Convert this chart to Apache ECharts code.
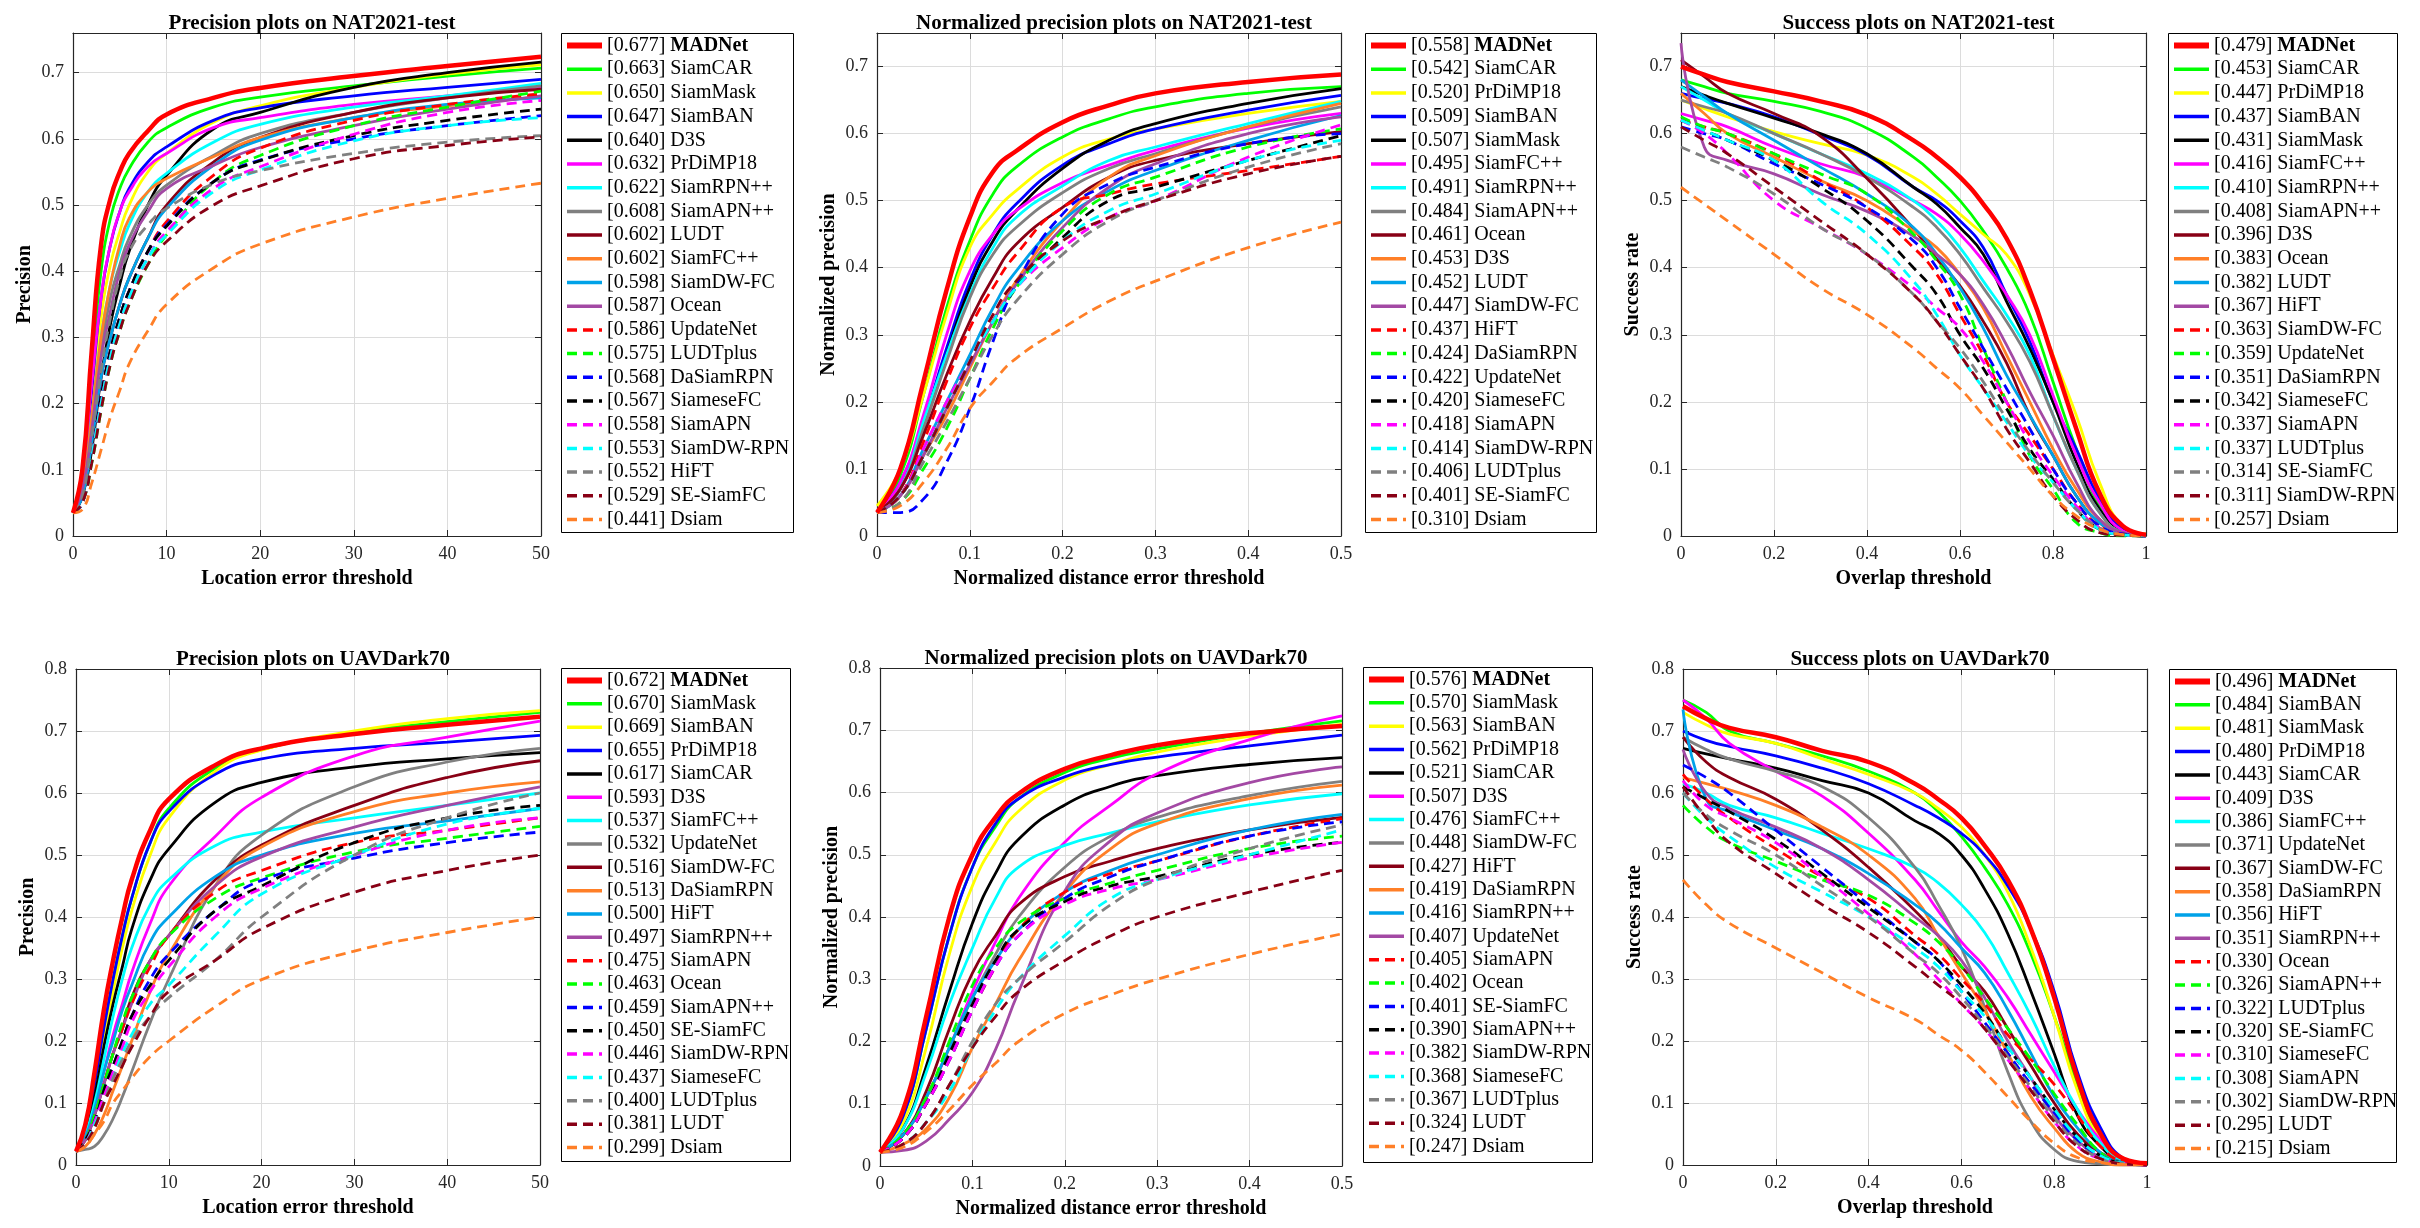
<!DOCTYPE html>
<html><head><meta charset="utf-8">
<script src="https://cdn.jsdelivr.net/npm/echarts@6/dist/echarts.min.js"></script>
<style>html,body{margin:0;padding:0;background:#fff}#c{width:2420px;height:1228px}</style>
</head><body><div id="c"></div>
<script>
// ================= DATA =================
// Panel 1: Precision plots on NAT2021-test
const x1 = [0,1,2,3,4,5,6,8,10,15,20,30,40,50];
const names1 = ['MADNet','SiamCAR','SiamMask','SiamBAN','D3S','PrDiMP18','SiamRPN++','SiamAPN++','LUDT','SiamFC++','SiamDW-FC','Ocean','UpdateNet','LUDTplus','DaSiamRPN','SiameseFC','SiamAPN','SiamDW-RPN','HiFT','SE-SiamFC','Dsiam'];
const scores1 = [0.677,0.663,0.650,0.647,0.640,0.632,0.622,0.608,0.602,0.602,0.598,0.587,0.586,0.575,0.568,0.567,0.558,0.553,0.552,0.529,0.441];
const vals1 = [
 [.035,.10,.28,.44,.51,.55,.578,.612,.637,.662,.677,.695,.71,.724],
 [.035,.09,.25,.40,.48,.525,.555,.595,.617,.648,.663,.68,.695,.707],
 [.035,.08,.20,.33,.41,.46,.50,.55,.578,.625,.650,.678,.698,.712],
 [.035,.08,.22,.36,.44,.49,.525,.565,.588,.628,.647,.665,.678,.69],
 [.035,.06,.13,.24,.32,.38,.43,.50,.545,.615,.640,.678,.70,.716],
 [.035,.09,.23,.36,.44,.49,.52,.558,.578,.617,.632,.652,.665,.679],
 [.035,.07,.18,.30,.38,.43,.47,.52,.548,.595,.622,.648,.665,.684],
 [.035,.07,.17,.28,.36,.41,.45,.50,.53,.575,.608,.64,.662,.68],
 [.035,.06,.14,.24,.30,.35,.39,.45,.50,.565,.602,.64,.662,.675],
 [.035,.07,.18,.30,.38,.44,.48,.52,.54,.573,.602,.632,.65,.664],
 [.035,.06,.14,.24,.30,.35,.39,.45,.495,.56,.598,.632,.652,.662],
 [.035,.07,.16,.27,.34,.40,.44,.49,.525,.56,.587,.62,.645,.665],
 [.035,.05,.12,.21,.28,.33,.37,.43,.475,.545,.586,.628,.652,.668],
 [.035,.05,.11,.19,.26,.31,.35,.41,.455,.535,.575,.62,.648,.672],
 [.035,.05,.12,.21,.28,.33,.37,.43,.47,.535,.568,.60,.62,.635],
 [.035,.05,.12,.21,.28,.33,.37,.43,.468,.535,.567,.605,.628,.645],
 [.035,.05,.12,.20,.27,.32,.36,.42,.46,.525,.558,.607,.64,.658],
 [.035,.05,.12,.20,.27,.32,.36,.42,.455,.52,.553,.597,.62,.632],
 [.035,.06,.15,.25,.33,.39,.43,.47,.495,.532,.552,.578,.595,.605],
 [.035,.05,.11,.19,.26,.31,.35,.41,.445,.50,.529,.57,.59,.603],
 [.035,.04,.08,.13,.18,.22,.26,.31,.35,.405,.441,.482,.51,.533]
];

// Panel 2: Normalized precision plots on NAT2021-test
const x2 = [0,0.025,0.05,0.075,0.1,0.125,0.15,0.2,0.25,0.3,0.4,0.5];
const names2 = ['MADNet','SiamCAR','PrDiMP18','SiamBAN','SiamMask','SiamFC++','SiamRPN++','SiamAPN++','Ocean','D3S','LUDT','SiamDW-FC','HiFT','DaSiamRPN','UpdateNet','SiameseFC','SiamAPN','SiamDW-RPN','LUDTplus','SE-SiamFC','Dsiam'];
const scores2 = [0.558,0.542,0.520,0.509,0.507,0.495,0.491,0.484,0.461,0.453,0.452,0.447,0.437,0.424,0.422,0.420,0.418,0.414,0.406,0.401,0.310];
const vals2 = [
 [.035,.10,.23,.367,.475,.543,.574,.617,.642,.66,.677,.688],
 [.035,.09,.21,.34,.44,.51,.55,.595,.622,.64,.66,.67],
 [.045,.10,.21,.33,.43,.48,.515,.565,.592,.607,.63,.648],
 [.035,.08,.17,.28,.38,.45,.495,.553,.585,.607,.635,.657],
 [.035,.07,.16,.27,.37,.44,.485,.548,.59,.615,.645,.667],
 [.035,.08,.18,.30,.395,.45,.485,.527,.553,.575,.608,.63],
 [.035,.07,.17,.27,.36,.43,.475,.522,.56,.58,.615,.648],
 [.035,.07,.16,.26,.355,.42,.46,.512,.548,.57,.61,.64],
 [.035,.07,.15,.24,.32,.385,.435,.49,.535,.56,.585,.603],
 [.035,.06,.12,.18,.25,.32,.38,.47,.535,.567,.61,.645],
 [.035,.06,.13,.20,.27,.34,.395,.47,.515,.545,.59,.627],
 [.035,.06,.12,.19,.255,.32,.375,.46,.52,.555,.60,.625],
 [.035,.06,.14,.23,.31,.37,.42,.49,.51,.525,.545,.566],
 [.035,.05,.10,.16,.235,.31,.37,.455,.51,.535,.58,.607],
 [.035,.035,.055,.11,.19,.29,.375,.48,.525,.55,.585,.60],
 [.035,.06,.12,.19,.26,.32,.37,.445,.50,.52,.56,.597],
 [.035,.06,.13,.20,.26,.32,.37,.43,.475,.50,.565,.613],
 [.035,.06,.12,.19,.26,.32,.37,.44,.485,.51,.56,.59],
 [.035,.05,.11,.17,.235,.30,.35,.42,.47,.50,.55,.585],
 [.035,.06,.12,.19,.26,.33,.38,.44,.475,.50,.54,.566],
 [.035,.045,.08,.13,.19,.23,.265,.31,.35,.38,.43,.468]
];

// Panel 3: Success plots on NAT2021-test
const x3 = [0,0.05,0.1,0.2,0.3,0.4,0.5,0.55,0.6,0.65,0.7,0.75,0.8,0.85,0.9,0.95,1];
const names3 = ['MADNet','SiamCAR','PrDiMP18','SiamBAN','SiamMask','SiamFC++','SiamRPN++','SiamAPN++','D3S','Ocean','LUDT','HiFT','SiamDW-FC','UpdateNet','DaSiamRPN','SiameseFC','SiamAPN','LUDTplus','SE-SiamFC','SiamDW-RPN','Dsiam'];
const scores3 = [0.479,0.453,0.447,0.437,0.431,0.416,0.410,0.408,0.396,0.383,0.382,0.367,0.363,0.359,0.351,0.342,0.337,0.337,0.314,0.311,0.257];
const vals3 = [
 [.70,.688,.677,.663,.648,.628,.59,.565,.535,.495,.444,.367,.265,.16,.064,.015,.002],
 [.68,.67,.66,.648,.633,.608,.565,.535,.50,.455,.40,.33,.23,.13,.045,.008,0],
 [.65,.637,.625,.603,.585,.568,.535,.51,.48,.45,.42,.36,.27,.18,.08,.015,.003],
 [.66,.652,.645,.625,.598,.568,.52,.50,.47,.43,.36,.29,.20,.13,.055,.01,0],
 [.67,.657,.645,.623,.60,.57,.52,.495,.46,.42,.35,.28,.20,.11,.04,.008,0],
 [.63,.62,.61,.58,.555,.535,.50,.48,.45,.41,.36,.30,.21,.12,.05,.008,0],
 [.67,.65,.63,.60,.57,.54,.50,.47,.43,.38,.33,.27,.18,.10,.035,.005,0],
 [.65,.64,.63,.60,.57,.535,.49,.46,.42,.37,.32,.26,.18,.10,.035,.005,0],
 [.71,.685,.66,.63,.596,.533,.458,.413,.373,.32,.258,.18,.12,.06,.02,.003,0],
 [.66,.63,.60,.565,.53,.50,.455,.43,.39,.34,.27,.20,.13,.07,.025,.004,0],
 [.68,.655,.63,.59,.55,.51,.46,.42,.37,.31,.24,.18,.12,.06,.02,.003,0],
 [.735,.58,.56,.54,.51,.484,.447,.42,.39,.345,.285,.215,.15,.08,.025,.005,0],
 [.62,.61,.60,.57,.53,.49,.43,.39,.33,.27,.20,.15,.10,.05,.015,.003,0],
 [.625,.61,.60,.57,.54,.51,.45,.41,.36,.28,.20,.12,.07,.02,.005,0,0],
 [.61,.60,.59,.555,.525,.49,.44,.40,.34,.28,.22,.16,.10,.05,.015,.003,0],
 [.62,.605,.59,.56,.52,.47,.40,.36,.30,.25,.19,.13,.085,.04,.01,.002,0],
 [.62,.60,.57,.50,.46,.42,.37,.34,.31,.26,.20,.14,.09,.045,.012,.002,0],
 [.62,.605,.59,.56,.50,.45,.38,.33,.27,.22,.17,.12,.08,.04,.01,.002,0],
 [.58,.565,.55,.51,.46,.42,.36,.32,.28,.23,.175,.125,.08,.04,.012,.002,0],
 [.61,.59,.57,.52,.47,.42,.36,.32,.27,.22,.16,.11,.06,.025,.005,.001,0],
 [.52,.495,.47,.42,.37,.33,.28,.25,.22,.18,.14,.10,.06,.03,.01,.002,0]
];

// Panel 4: Precision plots on UAVDark70
const x4 = [0,1,2,3,4,5,6,8,10,15,20,30,40,50];
const names4 = ['MADNet','SiamMask','SiamBAN','PrDiMP18','SiamCAR','D3S','SiamFC++','UpdateNet','SiamDW-FC','DaSiamRPN','HiFT','SiamRPN++','SiamAPN','Ocean','SiamAPN++','SE-SiamFC','SiamDW-RPN','SiameseFC','LUDTplus','LUDT','Dsiam'];
const scores4 = [0.672,0.670,0.669,0.655,0.617,0.593,0.537,0.532,0.516,0.513,0.500,0.497,0.475,0.463,0.459,0.450,0.446,0.437,0.400,0.381,0.299];
const vals4 = [
 [.022,.065,.15,.25,.33,.40,.46,.54,.59,.645,.672,.695,.71,.723],
 [.022,.055,.13,.22,.30,.37,.43,.52,.575,.64,.670,.698,.715,.73],
 [.022,.05,.12,.20,.28,.35,.41,.50,.56,.635,.669,.70,.72,.733],
 [.022,.055,.13,.22,.30,.37,.43,.52,.57,.63,.655,.672,.682,.693],
 [.022,.05,.11,.19,.26,.32,.38,.46,.51,.585,.617,.642,.655,.665],
 [.022,.045,.09,.15,.21,.26,.31,.39,.45,.53,.593,.66,.69,.716],
 [.022,.05,.10,.17,.24,.30,.35,.42,.46,.515,.537,.56,.58,.60],
 [.022,.025,.03,.048,.075,.11,.15,.23,.30,.45,.532,.61,.65,.672],
 [.022,.04,.08,.13,.18,.22,.27,.33,.37,.46,.516,.58,.625,.652],
 [.022,.03,.05,.08,.12,.16,.20,.28,.34,.45,.513,.57,.60,.618],
 [.022,.045,.09,.15,.20,.25,.29,.36,.40,.465,.50,.535,.555,.575],
 [.022,.04,.08,.13,.18,.22,.26,.33,.37,.45,.497,.545,.58,.61],
 [.022,.04,.08,.13,.18,.22,.26,.32,.37,.44,.475,.52,.54,.56],
 [.022,.04,.08,.13,.18,.23,.27,.33,.37,.43,.463,.505,.527,.546],
 [.022,.04,.07,.12,.16,.20,.24,.30,.34,.41,.459,.495,.52,.537],
 [.022,.04,.07,.12,.16,.20,.24,.29,.33,.41,.45,.52,.56,.58],
 [.022,.035,.07,.11,.15,.19,.23,.28,.32,.40,.446,.50,.54,.56],
 [.022,.035,.065,.10,.14,.18,.21,.26,.29,.37,.437,.50,.55,.575],
 [.022,.035,.06,.10,.14,.17,.20,.24,.27,.33,.40,.50,.56,.60],
 [.022,.035,.06,.10,.13,.16,.19,.24,.28,.33,.381,.44,.475,.50],
 [.022,.03,.05,.07,.10,.12,.14,.175,.20,.255,.299,.345,.375,.40]
];

// Panel 5: Normalized precision plots on UAVDark70
const x5 = [0,0.025,0.05,0.075,0.1,0.125,0.15,0.2,0.25,0.3,0.4,0.5];
const names5 = ['MADNet','SiamMask','SiamBAN','PrDiMP18','SiamCAR','D3S','SiamFC++','SiamDW-FC','HiFT','DaSiamRPN','SiamRPN++','UpdateNet','SiamAPN','Ocean','SE-SiamFC','SiamAPN++','SiamDW-RPN','SiameseFC','LUDTplus','LUDT','Dsiam'];
const scores5 = [0.576,0.570,0.563,0.562,0.521,0.507,0.476,0.448,0.427,0.419,0.416,0.407,0.405,0.402,0.401,0.390,0.382,0.368,0.367,0.324,0.247];
const vals5 = [
 [.022,.09,.24,.40,.50,.56,.598,.638,.66,.676,.695,.707],
 [.022,.08,.22,.37,.48,.545,.59,.632,.655,.67,.695,.715],
 [.022,.07,.19,.34,.45,.52,.57,.62,.645,.665,.69,.71],
 [.022,.08,.22,.37,.48,.55,.59,.625,.645,.657,.675,.692],
 [.022,.06,.16,.28,.39,.47,.525,.58,.61,.627,.645,.656],
 [.022,.05,.11,.19,.28,.36,.43,.52,.58,.63,.685,.723],
 [.022,.06,.15,.26,.35,.43,.48,.515,.535,.553,.58,.598],
 [.022,.05,.11,.19,.27,.34,.40,.48,.53,.56,.595,.618],
 [.022,.05,.12,.22,.31,.37,.42,.465,.49,.51,.54,.56],
 [.022,.035,.06,.11,.19,.26,.33,.44,.51,.55,.59,.612],
 [.022,.05,.11,.19,.27,.33,.38,.44,.475,.50,.54,.565],
 [.022,.025,.04,.075,.118,.187,.28,.442,.523,.567,.616,.641],
 [.022,.045,.10,.17,.25,.32,.38,.44,.47,.49,.53,.558],
 [.022,.05,.11,.20,.29,.35,.39,.43,.455,.475,.51,.53],
 [.022,.045,.10,.17,.25,.32,.37,.43,.465,.49,.53,.553],
 [.022,.045,.10,.18,.26,.33,.38,.425,.45,.465,.50,.52],
 [.022,.045,.10,.17,.25,.32,.37,.42,.445,.46,.495,.52],
 [.022,.035,.07,.12,.19,.25,.30,.37,.43,.46,.50,.54],
 [.022,.035,.07,.13,.20,.26,.30,.36,.42,.46,.51,.548],
 [.022,.035,.07,.13,.19,.24,.28,.33,.37,.40,.44,.475],
 [.022,.03,.055,.09,.13,.165,.20,.245,.275,.30,.34,.373]
];

// Panel 6: Success plots on UAVDark70
const x6 = [0,0.05,0.1,0.2,0.3,0.4,0.5,0.55,0.6,0.65,0.7,0.75,0.8,0.85,0.9,0.95,1];
const names6 = ['MADNet','SiamBAN','SiamMask','PrDiMP18','SiamCAR','D3S','SiamFC++','UpdateNet','SiamDW-FC','DaSiamRPN','HiFT','SiamRPN++','Ocean','SiamAPN++','LUDTplus','SE-SiamFC','SiameseFC','SiamAPN','SiamDW-RPN','LUDT','Dsiam'];
const scores6 = [0.496,0.484,0.481,0.480,0.443,0.409,0.386,0.371,0.367,0.358,0.356,0.351,0.330,0.326,0.322,0.320,0.310,0.308,0.302,0.295,0.215];
const vals6 = [
 [.74,.72,.705,.69,.668,.65,.615,.59,.56,.515,.46,.38,.27,.14,.05,.01,.003],
 [.75,.73,.70,.68,.66,.635,.60,.57,.53,.48,.42,.34,.24,.13,.04,.008,0],
 [.73,.71,.695,.68,.655,.63,.60,.575,.545,.50,.44,.35,.24,.12,.04,.007,0],
 [.70,.685,.675,.66,.64,.615,.58,.56,.535,.50,.45,.38,.28,.15,.06,.01,0],
 [.672,.663,.655,.64,.62,.60,.555,.535,.50,.445,.373,.28,.18,.08,.03,.005,0],
 [.75,.72,.68,.635,.595,.535,.46,.41,.36,.32,.27,.21,.15,.09,.04,.008,0],
 [.615,.60,.58,.56,.535,.51,.48,.455,.42,.375,.31,.24,.16,.09,.035,.006,0],
 [.69,.67,.655,.635,.61,.56,.48,.42,.35,.255,.15,.07,.025,.006,.002,0,0],
 [.69,.65,.625,.59,.54,.48,.41,.37,.32,.28,.22,.16,.10,.05,.02,.004,0],
 [.625,.615,.605,.58,.545,.50,.43,.37,.31,.25,.18,.11,.06,.02,.005,0,0],
 [.735,.59,.57,.54,.51,.47,.42,.39,.35,.31,.25,.18,.11,.06,.02,.004,0],
 [.67,.60,.575,.545,.51,.46,.40,.37,.33,.27,.20,.14,.08,.04,.012,.002,0],
 [.63,.59,.56,.51,.465,.43,.37,.34,.30,.26,.21,.17,.13,.08,.03,.005,0],
 [.58,.545,.52,.49,.46,.435,.39,.36,.32,.27,.22,.17,.115,.065,.02,.003,0],
 [.645,.625,.60,.54,.48,.42,.36,.33,.28,.23,.18,.13,.085,.04,.015,.003,0],
 [.61,.59,.57,.525,.47,.415,.36,.33,.29,.245,.19,.14,.09,.045,.015,.003,0],
 [.62,.58,.56,.52,.465,.405,.34,.30,.26,.22,.17,.12,.07,.03,.01,.002,0],
 [.60,.56,.53,.48,.44,.40,.35,.32,.28,.24,.19,.14,.09,.045,.015,.003,0],
 [.60,.565,.54,.50,.45,.40,.34,.31,.27,.225,.175,.125,.075,.035,.01,.002,0],
 [.61,.56,.52,.47,.42,.375,.32,.29,.26,.22,.17,.12,.07,.03,.01,.002,0],
 [.46,.42,.39,.35,.31,.27,.235,.21,.185,.15,.11,.07,.035,.012,.004,.001,0]
];

// ================= STYLE =================
const lineColors = ['#ff0000','#00ff00','#ffff00','#0000ff','#000000','#ff00ff','#00ffff','#808080','#880015','#ff7f27','#00a2e8','#a349a4',
                    '#ff0000','#00ff00','#0000ff','#000000','#ff00ff','#00ffff','#808080','#880015','#ff7f27'];
const FONT = "'Liberation Serif','Times New Roman',serif";

const panels = [
 {title:'Precision plots on NAT2021-test', xName:'Location error threshold', yName:'Precision', x:x1, names:names1, scores:scores1, vals:vals1, xMax:50, xInt:10, yMax:0.76, g:[73,33,468,503], box:[561,33,232,499], gap:23.7},
 {title:'Normalized precision plots on NAT2021-test', xName:'Normalized distance error threshold', yName:'Normalized precision', x:x2, names:names2, scores:scores2, vals:vals2, xMax:0.5, xInt:0.1, yMax:0.75, g:[877,33,464,503], box:[1365,33,231,499], gap:23.7},
 {title:'Success plots on NAT2021-test', xName:'Overlap threshold', yName:'Success rate', x:x3, names:names3, scores:scores3, vals:vals3, xMax:1, xInt:0.2, yMax:0.75, g:[1681,33,465,503], box:[2168,33,229,499], gap:23.7},
 {title:'Precision plots on UAVDark70', xName:'Location error threshold', yName:'Precision', x:x4, names:names4, scores:scores4, vals:vals4, xMax:50, xInt:10, yMax:0.8, g:[76,669,464,496], box:[561,668,229,493], gap:23.35},
 {title:'Normalized precision plots on UAVDark70', xName:'Normalized distance error threshold', yName:'Normalized precision', x:x5, names:names5, scores:scores5, vals:vals5, xMax:0.5, xInt:0.1, yMax:0.8, g:[880,668,462,498], box:[1363,667,229,495], gap:23.35},
 {title:'Success plots on UAVDark70', xName:'Overlap threshold', yName:'Success rate', x:x6, names:names6, scores:scores6, vals:vals6, xMax:1, xInt:0.2, yMax:0.8, g:[1683,669,464,496], box:[2169,669,227,493], gap:23.35}
];

const tickFmt = v => {
  const t = v * 10;
  if (Math.abs(t - Math.round(t)) > 1e-6) return '';
  return String(Math.round(t) / 10);
};

const grids = [], xAxes = [], yAxes = [], series = [], legends = [], titles = [], graphics = [];
const axisCol = '#262626';

panels.forEach((p, i) => {
  const [gl, gt, gw, gh] = p.g;
  grids.push({left: gl, top: gt, width: gw, height: gh, containLabel: false});
  titles.push({text: p.title, left: gl + gw / 2, top: gt - 25, textAlign: 'center',
    textStyle: {fontFamily: FONT, fontSize: 21, fontWeight: 'bold', color: '#000'}});
  const base = {gridIndex: i, type: 'value', min: 0};
  xAxes.push(Object.assign({}, base, {
    max: p.xMax, interval: p.xInt, position: 'bottom',
    name: p.xName, nameLocation: 'middle', nameGap: 33,
    nameTextStyle: {fontFamily: FONT, fontSize: 20, fontWeight: 'bold', color: '#000'},
    axisLine: {show: true, onZero: false, lineStyle: {color: axisCol, width: 1.2}},
    axisTick: {show: true, inside: true, length: 6, lineStyle: {color: axisCol}},
    axisLabel: {fontFamily: FONT, fontSize: 18, color: axisCol, margin: 9, formatter: tickFmt},
    splitLine: {show: true, lineStyle: {color: '#dcdcdc', width: 1}}
  }));
  xAxes.push(Object.assign({}, base, {
    max: p.xMax, interval: p.xInt, position: 'top',
    axisLine: {show: true, onZero: false, lineStyle: {color: axisCol, width: 1.2}},
    axisTick: {show: true, inside: true, length: 6, lineStyle: {color: axisCol}},
    axisLabel: {show: false}, splitLine: {show: false}
  }));
  yAxes.push(Object.assign({}, base, {
    max: p.yMax, interval: 0.1, position: 'left',
    name: p.yName, nameLocation: 'middle', nameGap: 38,
    nameTextStyle: {fontFamily: FONT, fontSize: 20, fontWeight: 'bold', color: '#000'},
    axisLine: {show: true, onZero: false, lineStyle: {color: axisCol, width: 1.2}},
    axisTick: {show: true, inside: true, length: 6, lineStyle: {color: axisCol}},
    axisLabel: {fontFamily: FONT, fontSize: 18, color: axisCol, margin: 9, formatter: tickFmt},
    splitLine: {show: true, lineStyle: {color: '#dcdcdc', width: 1}}
  }));
  yAxes.push(Object.assign({}, base, {
    max: p.yMax, interval: 0.1, position: 'right',
    axisLine: {show: true, onZero: false, lineStyle: {color: axisCol, width: 1.2}},
    axisTick: {show: true, inside: true, length: 6, lineStyle: {color: axisCol}},
    axisLabel: {show: false}, splitLine: {show: false}
  }));

  const legendData = [];
  p.names.forEach((nm, j) => {
    const sname = i + '|' + j;
    const col = lineColors[j];
    const dash = j >= 12 ? [10, 6] : 'solid';
    legendData.push({name: sname, itemStyle: {opacity: 0, borderWidth: 0},
      lineStyle: {width: j === 0 ? 6 : 3.5, type: dash, color: col, opacity: 1}});
    series.push({
      type: 'line', name: sname, xAxisIndex: 2 * i, yAxisIndex: 2 * i,
      data: p.x.map((xv, k) => [xv, p.vals[j][k]]),
      symbol: 'none', smooth: 0.5,
      lineStyle: {color: col, width: j === 0 ? 4.5 : 2.8, type: dash},
      itemStyle: {color: col},
      z: j === 0 ? 5 : 2, silent: true, emphasis: {disabled: true}
    });
  });

  const [bl, bt, bw, bh] = p.box;
  graphics.push({type: 'rect', shape: {x: bl + 0.5, y: bt + 0.5, width: bw, height: bh},
    style: {fill: '#fff', stroke: '#000', lineWidth: 1}, z: 1, silent: true});

  legends.push({
    orient: 'vertical', left: bl + 3, top: bt + 2.5, padding: 0,
    itemWidth: 35, itemHeight: 14, itemGap: p.gap - 20,
    data: legendData, selectedMode: false,
    itemStyle: {opacity: 0, borderWidth: 0},
    formatter: (n) => {
      const k = +n.split('|')[1];
      const sc = '[' + p.scores[k].toFixed(3) + '] ';
      return k === 0 ? sc + '{b|' + p.names[k] + '}' : sc + p.names[k];
    },
    textStyle: {fontFamily: FONT, fontSize: 20, lineHeight: 20, color: '#000',
      rich: {b: {fontFamily: FONT, fontSize: 20, lineHeight: 20, fontWeight: 'bold', color: '#000'}}}
  });
});

const chart = echarts.init(document.getElementById('c'), null, {renderer: 'canvas'});
chart.setOption({
  animation: false,
  backgroundColor: '#fff',
  title: titles,
  grid: grids,
  xAxis: xAxes,
  yAxis: yAxes,
  legend: legends,
  graphic: graphics,
  series: series
});
</script>
</body></html>
